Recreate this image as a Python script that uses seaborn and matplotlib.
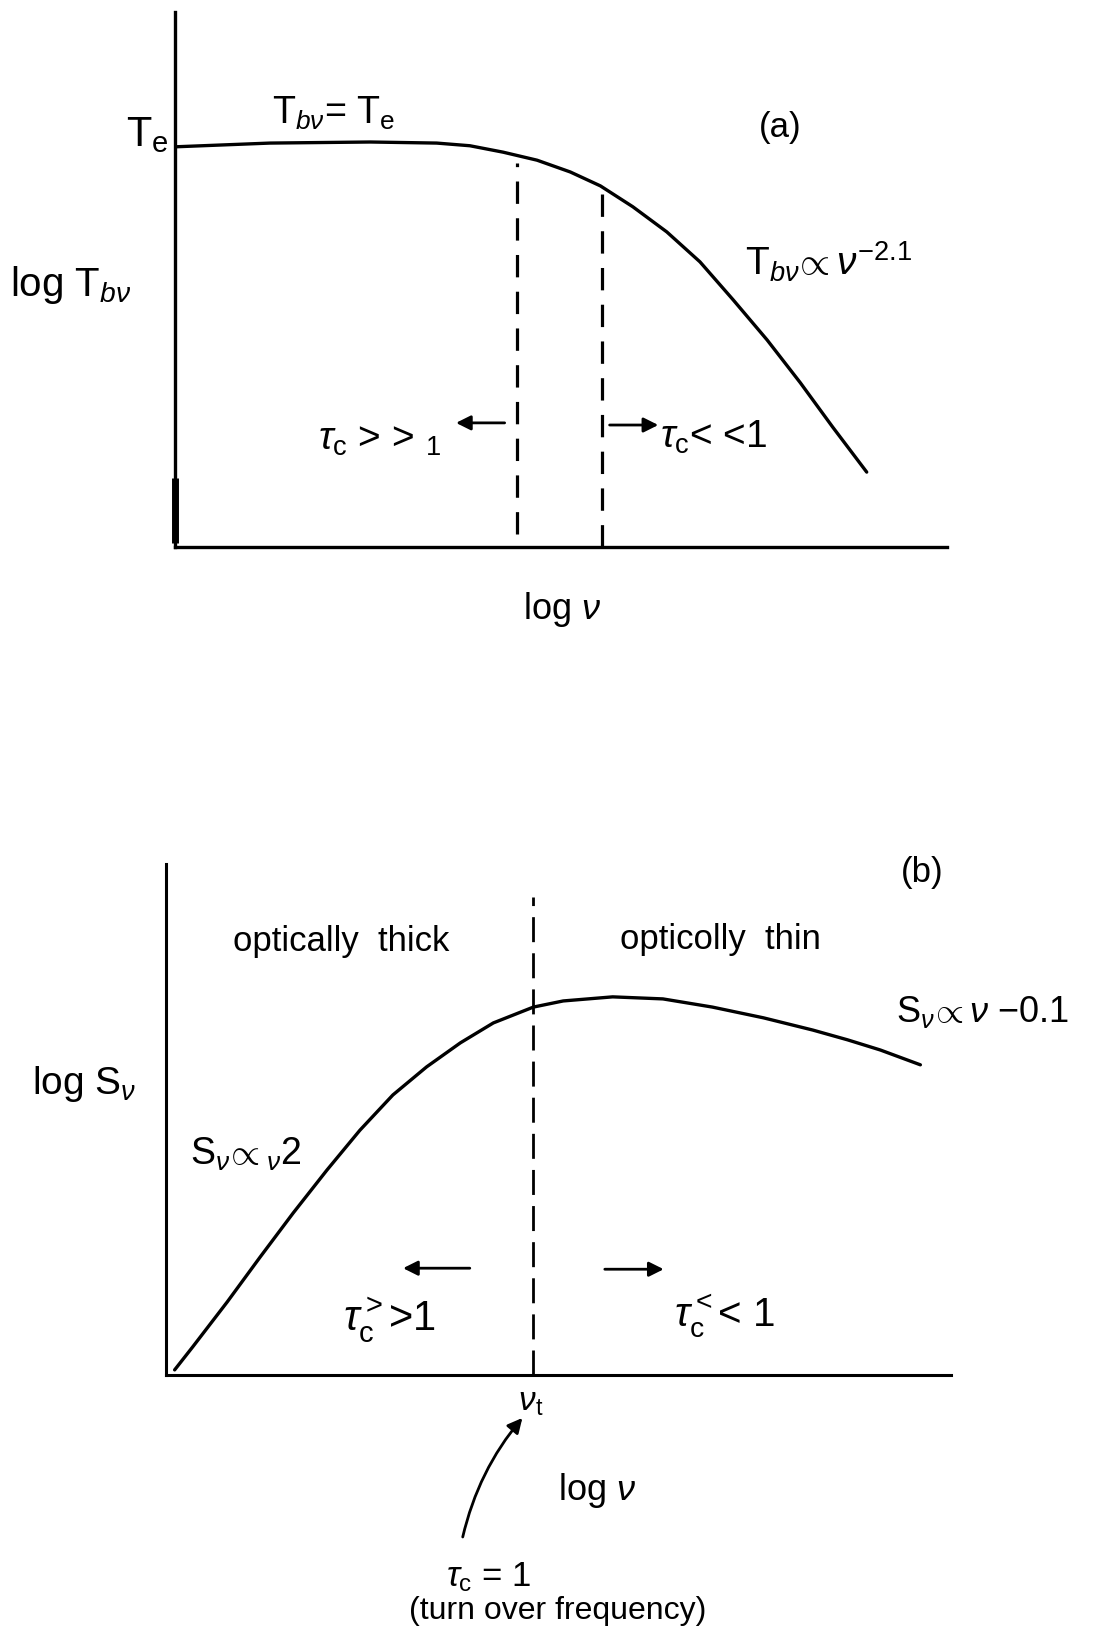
import matplotlib
matplotlib.use("Agg")
import matplotlib.pyplot as plt
import seaborn as sns
import pandas as pd

# ---- panel (a): brightness temperature vs frequency ----
a_lognu = [0.0, 12.3, 25.3, 33.9, 38.2, 42.5, 46.9, 51.2, 55.1, 59.3,
           63.7, 68.0, 72.3, 76.7, 81.0, 85.2, 89.6]
a_logT = [74.8, 75.5, 75.7, 75.5, 75.0, 73.8, 72.3, 70.1, 67.5, 63.6,
          58.9, 53.3, 46.2, 38.7, 30.7, 22.4, 14.0]
a_thick_limit = [44.3, 2.4, 71.8]     # x, y_low, y_high of dashed marker
a_thin_limit = [55.3, 0.0, 66.2]
a_axis_mark = [0.0, 0.8, 12.9]        # heavy stroke on the ordinate
a_arrow_left = [(42.7, 23.2), (36.4, 23.2)]
a_arrow_right = [(56.3, 22.8), (62.6, 22.8)]

# ---- panel (b): flux density vs frequency ----
b_lognu = [1.1, 3.4, 7.8, 12.0, 16.2, 20.5, 24.7, 28.9, 33.2, 37.5,
           41.7, 46.8, 50.6, 56.9, 63.3, 69.6, 76.1, 82.4, 86.8, 91.0, 96.1]
b_logS = [1.0, 5.5, 14.3, 23.1, 31.7, 40.1, 47.9, 54.8, 60.3, 65.0,
          68.9, 72.0, 73.2, 74.0, 73.6, 72.0, 69.9, 67.5, 65.6, 63.6, 60.7]
b_turnover = [46.8, 0.0, 93.5]
b_arrow_left = [(38.7, 20.9), (30.2, 20.9)]
b_arrow_right = [(55.9, 20.7), (63.4, 20.7)]
b_arrow_nut = [(37.8, -31.7), (45.4, -8.4)]

sns.set_theme(style="white")
plt.rcParams["font.family"] = ["Liberation Sans", "DejaVu Sans"]
plt.rcParams["mathtext.fontset"] = "custom"
plt.rcParams["mathtext.rm"] = "Liberation Sans"
plt.rcParams["mathtext.it"] = "Liberation Sans:italic"
plt.rcParams["mathtext.bf"] = "Liberation Sans:bold"

W, H = 1097, 1629
fig = plt.figure(figsize=(W / 100, H / 100), dpi=100)
fig.patch.set_facecolor("white")


def px_axes(left, top, right, bottom):
    return fig.add_axes([left / W, 1 - bottom / H, (right - left) / W, (bottom - top) / H])


def ptext(x, y, s, size, ha="left", va="center", **kw):
    fig.text(x / W, 1 - y / H, s, fontsize=size, ha=ha, va=va, color="black", **kw)


def style_axes(ax, lw):
    ax.set_xlim(0, 100)
    ax.set_ylim(0, 100)
    ax.set_xticks([])
    ax.set_yticks([])
    ax.set_xlabel("")
    ax.set_ylabel("")
    ax.set_facecolor("white")
    for side in ("top", "right"):
        ax.spines[side].set_visible(False)
    for side in ("left", "bottom"):
        ax.spines[side].set_visible(True)
        ax.spines[side].set_linewidth(lw)
        ax.spines[side].set_color("black")


def arrow(ax, pts, lw=2.0, scale=22, rad=0.0):
    ax.annotate("", xy=pts[1], xytext=pts[0], annotation_clip=False,
                arrowprops=dict(arrowstyle="-|>", color="black", lw=lw,
                                mutation_scale=scale, shrinkA=0, shrinkB=0,
                                connectionstyle=f"arc3,rad={rad}"))


# ---------------- panel (a) ----------------
axa = px_axes(175, 12, 947, 547)
style_axes(axa, 2.4)
sns.lineplot(data=pd.DataFrame({"x": a_lognu, "y": a_logT}), x="x", y="y",
             sort=False, color="black", lw=2.4, ax=axa)
for xv, y0, y1 in (a_thick_limit, a_thin_limit):
    axa.plot([xv, xv], [y0, y1], color="black", lw=2.3, dashes=(7, 4.5),
             solid_capstyle="butt")
axa.plot([a_axis_mark[0]] * 2, a_axis_mark[1:], color="black", lw=5,
         solid_capstyle="butt", clip_on=False)
arrow(axa, a_arrow_left)
arrow(axa, a_arrow_right)
style_axes(axa, 2.4)

ptext(126, 146, r"T$_{\rm e}$", 30, va="baseline")
ptext(272, 124, r"T$_{b\nu}$= T$_{\rm e}$", 27, va="baseline")
ptext(10, 285, r"log T$_{b\nu}$", 29)
ptext(780, 127, "(a)", 25, ha="center")
ptext(745, 262, r"T$_{b\nu}\!\propto\nu^{-2.1}$", 28)
ptext(318, 440, r"$\tau_{\rm c}$ > > $_1$", 28)
ptext(660, 437, r"$\tau_{\rm c}$< <1", 28)
ptext(562, 610, r"log $\nu$", 26, ha="center")

# ---------------- panel (b) ----------------
axb = px_axes(166, 864, 951, 1375)
style_axes(axb, 2.2)
sns.lineplot(data=pd.DataFrame({"x": b_lognu, "y": b_logS}), x="x", y="y",
             sort=False, color="black", lw=2.4, ax=axb)
axb.plot([b_turnover[0]] * 2, b_turnover[1:], color="black", lw=2.0,
         dashes=(9, 4), solid_capstyle="butt")
arrow(axb, b_arrow_left)
arrow(axb, b_arrow_right)
arrow(axb, b_arrow_nut, rad=-0.12)
style_axes(axb, 2.2)

ptext(922, 873, "(b)", 25, ha="center")
ptext(341, 942, "optically  thick", 25, ha="center")
ptext(720, 940, "opticolly  thin", 25, ha="center")
ptext(896, 1012, r"S$_\nu\!\propto\nu$ $-$0.1", 26)
ptext(32, 1084, r"log S$_\nu$", 28)
ptext(190, 1154, r"S$_\nu\!\propto_\nu$2", 27)
ptext(343, 1320, r"$\tau_{\rm c}^{>}$>1", 30)
ptext(674, 1316, r"$\tau_{\rm c}^{<}$< 1", 29)
ptext(518, 1402, r"$\nu$$_{\rm t}$", 24)
ptext(597, 1491, r"log $\nu$", 26, ha="center")
ptext(489, 1577, r"$\tau_{\rm c}$ = 1", 25, ha="center")
ptext(558, 1611, "(turn over frequency)", 23, ha="center")

fig.savefig("out.png", dpi=100, facecolor="white")
